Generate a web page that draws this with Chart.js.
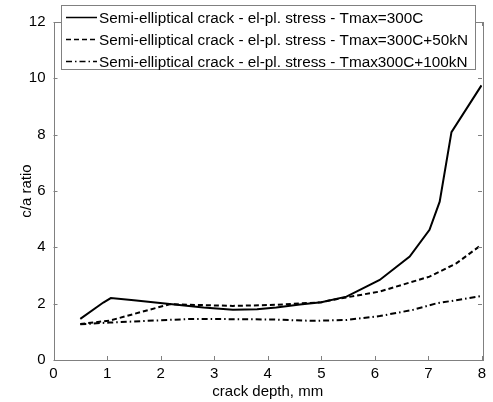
<!DOCTYPE html>
<html>
<head>
<meta charset="utf-8">
<script src="https://cdn.jsdelivr.net/npm/chart.js@4/dist/chart.umd.min.js"></script>
<style>
  html, body { margin: 0; padding: 0; background: #fff; }
  #wrap { width: 493px; height: 402px; }
</style>
</head>
<body>
<div id="wrap"><canvas id="chart" width="493" height="402"></canvas></div>
<script>
// crack depth (mm) and c/a ratio for each loading case
const depthT300 = [0.5, 0.93, 1.07, 1.5, 2.17, 2.8, 3.35, 3.8, 4.16, 4.6, 5.0, 5.47, 6.09, 6.65, 7.02, 7.21, 7.43, 7.99];
const ratioT300 = [1.46, 2.04, 2.2, 2.12, 1.99, 1.86, 1.78, 1.8, 1.86, 1.97, 2.05, 2.25, 2.84, 3.67, 4.62, 5.62, 8.09, 9.75];

const depth50kN = [0.5, 1.05, 2.17, 3.35, 4.16, 5.0, 5.28, 6.09, 7.02, 7.52, 7.99];
const ratio50kN = [1.28, 1.4, 1.98, 1.92, 1.96, 2.05, 2.16, 2.43, 2.96, 3.43, 4.09];

const depth100kN = [0.5, 1.05, 2.6, 4.04, 4.85, 5.47, 6.09, 6.71, 7.15, 7.99];
const ratio100kN = [1.27, 1.33, 1.46, 1.44, 1.39, 1.42, 1.56, 1.78, 2.01, 2.27];

const seriesLabels = [
    'Semi-elliptical crack - el-pl. stress - Tmax=300C',
    'Semi-elliptical crack - el-pl. stress - Tmax=300C+50kN',
    'Semi-elliptical crack - el-pl. stress - Tmax300C+100kN'
];

const xTicks = [0, 1, 2, 3, 4, 5, 6, 7, 8];
const yTicks = [0, 2, 4, 6, 8, 10, 12];

const FONT = 'Arial, "Liberation Sans", sans-serif';
const FRAME = '#808080';

function toPoints(xs, ys) {
    return xs.map((x, i) => ({ x: x, y: ys[i] }));
}

// box round the axes, inward tick marks and the boxed legend
const matlabFrame = {
    id: 'matlabFrame',
    afterDraw(chart) {
        const ctx = chart.ctx;
        const a = chart.chartArea;
        const xs = chart.scales.x, ys = chart.scales.y;
        const tl = 4;
        ctx.save();
        ctx.strokeStyle = FRAME;
        ctx.lineWidth = 1;
        ctx.beginPath();
        xTicks.forEach(v => {
            const px = Math.round(xs.getPixelForValue(v)) + 0.5;
            ctx.moveTo(px, a.bottom); ctx.lineTo(px, a.bottom - tl);
            ctx.moveTo(px, a.top); ctx.lineTo(px, a.top + tl);
        });
        yTicks.forEach(v => {
            const py = Math.round(ys.getPixelForValue(v)) + 0.5;
            ctx.moveTo(a.left, py); ctx.lineTo(a.left + tl, py);
            ctx.moveTo(a.right, py); ctx.lineTo(a.right - tl, py);
        });
        ctx.stroke();
        ctx.strokeRect(Math.round(a.left) + 0.5, Math.round(a.top) + 0.5,
            Math.round(a.right - a.left), Math.round(a.bottom - a.top));

        // legend
        const lx = 61, ly = 5, lw = 414, lh = 64;
        ctx.fillStyle = '#fff';
        ctx.fillRect(lx, ly, lw, lh);
        ctx.strokeRect(lx + 0.5, ly + 0.5, lw, lh);
        ctx.font = '15.3px ' + FONT;
        ctx.textBaseline = 'middle';
        ctx.textAlign = 'left';
        chart.data.datasets.forEach((ds, i) => {
            const ry = 17 + i * 22;
            ctx.strokeStyle = '#000';
            ctx.lineWidth = 1.5;
            ctx.setLineDash(ds.borderDash || []);
            ctx.beginPath();
            ctx.moveTo(66, ry + 0.5);
            ctx.lineTo(97, ry + 0.5);
            ctx.stroke();
            ctx.setLineDash([]);
            ctx.fillStyle = '#000';
            ctx.fillText(ds.label, 99, ry + 1.5);
        });
        ctx.restore();
    }
};

new Chart(document.getElementById('chart'), {
    type: 'line',
    data: {
        datasets: [
            {
                label: seriesLabels[0],
                data: toPoints(depthT300, ratioT300),
                borderColor: '#000',
                borderWidth: 2,
                borderDash: []
            },
            {
                label: seriesLabels[1],
                data: toPoints(depth50kN, ratio50kN),
                borderColor: '#000',
                borderWidth: 2,
                borderDash: [5, 3]
            },
            {
                label: seriesLabels[2],
                data: toPoints(depth100kN, ratio100kN),
                borderColor: '#000',
                borderWidth: 2,
                borderDash: [6, 3, 1.5, 3]
            }
        ]
    },
    options: {
        responsive: false,
        animation: false,
        events: [],
        layout: { padding: { top: 22, right: 11, left: 0, bottom: 0 } },
        elements: {
            point: { radius: 0 },
            line: { tension: 0, fill: false }
        },
        plugins: {
            legend: { display: false },
            tooltip: { enabled: false }
        },
        scales: {
            x: {
                type: 'linear',
                min: 0,
                max: 8,
                afterFit(scale) { scale.height = 42; },
                afterBuildTicks(scale) { scale.ticks = xTicks.map(v => ({ value: v })); },
                grid: { display: false, drawTicks: false },
                border: { display: false },
                ticks: { color: '#000', font: { family: FONT, size: 15 }, padding: 5, maxRotation: 0 },
                title: {
                    display: true,
                    text: 'crack depth, mm',
                    color: '#000',
                    font: { family: FONT, size: 15 },
                    padding: { top: 0, bottom: 1 }
                }
            },
            y: {
                type: 'linear',
                min: 0,
                max: 12,
                afterFit(scale) { scale.width = 53.5; },
                afterBuildTicks(scale) { scale.ticks = yTicks.map(v => ({ value: v })); },
                grid: { display: false, drawTicks: false },
                border: { display: false },
                ticks: { color: '#000', font: { family: FONT, size: 15 }, padding: 8 },
                title: {
                    display: true,
                    text: 'c/a ratio',
                    color: '#000',
                    font: { family: FONT, size: 15 },
                    padding: { top: 18, bottom: 0 }
                }
            }
        }
    },
    plugins: [matlabFrame]
});
</script>
</body>
</html>
